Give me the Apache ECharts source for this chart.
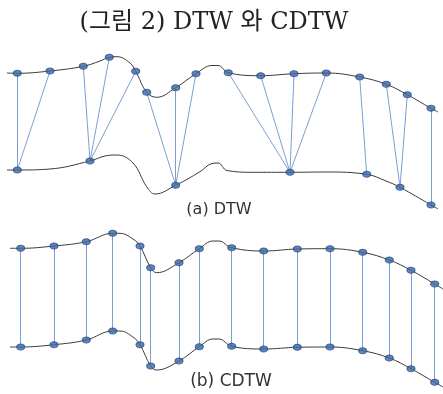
<!DOCTYPE html>
<html><head><meta charset="utf-8">
<script src="https://cdn.jsdelivr.net/npm/echarts@6/dist/echarts.min.js"></script>
<style>html,body{margin:0;padding:0;background:#fff}#c{width:443px;height:394px}</style>
</head><body><div id="c"></div>
<script>
// Panel (a) DTW — curve shapes (x, y) in picture units
const aTopCurve = [[7,73],[17.3,73.3],[50,71],[83.3,66.3],[100,61],[109.3,57.3],[117,56.7],[130,63],[135.7,71.3],[146.7,92.3],[156.7,97.3],[175.7,87.7],[196,73.7],[212,65.5],[218,65.5],[228.3,72.7],[260.7,75.7],[294,73.7],[326.3,73],[359.7,77],[386.3,84.3],[407.3,94.7],[431,108.3],[438,112]];
const aBotCurve = [[7,170],[17.3,170],[50,169],[90,161],[105,156],[116.7,155],[133,163],[146.7,186.7],[155,194],[175.7,185.3],[200,171.7],[212,163.5],[218,163],[227,170.5],[253,172.3],[290,172.3],[326,172],[366.7,174.3],[386,181],[400,187.3],[431,205],[438,209]];
const aTopPts = [[17.3,73.3],[50,71],[83.3,66.3],[109.3,57.3],[135.7,71.3],[146.7,92.3],[175.7,87.7],[196,73.7],[228.3,72.7],[260.7,75.7],[294,73.7],[326.3,73],[359.7,77],[386.3,84.3],[407.3,94.7],[431,108.3]];
const aBotPts = [[17.3,170],[90,161],[175.7,185.3],[290,172.3],[366.7,174.3],[400,187.3],[431,205]];
const aMatch = [0,0,1,1,1,2,2,2,3,3,3,3,4,5,5,6]; // top index -> bottom index

// Panel (b) CDTW
const bTopCurve = [[10,248.3],[20.7,248.3],[54,246],[86.3,241.7],[112.7,233.3],[120,233.3],[133,239],[140,246],[150.7,267.7],[156.7,272.7],[179,262.7],[199.3,248.7],[213,241],[219,241],[231.7,247.7],[263.7,251],[297.3,249],[330,248.7],[362.7,252.3],[389.3,260],[411,270.3],[434.7,284],[443,289]];
const bBotCurve = [[10,347],[20.7,347],[54,344.7],[86.3,340],[112.7,331],[120,331],[133,337],[140,344.7],[150.7,366],[156.7,370],[179,361],[199.3,346.7],[213,339],[219,339],[231.7,346.3],[263.7,349],[297.3,347.3],[330,347],[362.7,350.7],[389.3,358],[411,368.7],[434.7,382.3],[443,387]];
const bTopPts = [[20.7,248.3],[54,246],[86.3,241.7],[112.7,233.3],[140,246],[150.7,267.7],[179,262.7],[199.3,248.7],[231.7,247.7],[263.7,251],[297.3,249],[330,248.7],[362.7,252.3],[389.3,260],[411,270.3],[434.7,284]];
const bBotPts = [[20.7,347],[54,344.7],[86.3,340],[112.7,331],[140,344.7],[150.7,366],[179,361],[199.3,346.7],[231.7,346.3],[263.7,349],[297.3,347.3],[330,347],[362.7,350.7],[389.3,358],[411,368.7],[434.7,382.3]];
const bMatch = [0,1,2,3,4,5,6,7,8,9,10,11,12,13,14,15];

const titleText = '(그림 2) DTW 와 CDTW';
const labelA = '(a) DTW';
const labelB = '(b) CDTW';

function links(top, bot, match){ return top.map((p,i)=>({coords:[p, bot[match[i]]]})); }
function curve(d){ return {type:'line', data:d, smooth:0.4, showSymbol:false, symbol:'none', lineStyle:{color:'#3a3a3a', width:1}, z:2, silent:true}; }
function pts(d){ return {type:'scatter', data:d, symbol:'circle', symbolSize:[8,6], itemStyle:{color:'#3b68a6', borderColor:'#2a4e82', borderWidth:1}, z:5, silent:true}; }
function lk(d){ return {type:'lines', coordinateSystem:'cartesian2d', data:d, lineStyle:{color:'#7b9fd2', width:1, opacity:1}, z:3, silent:true}; }

const chart = echarts.init(document.getElementById('c'));
chart.setOption({
  animation:false,
  graphic:[
    {type:'text', x:214, y:23, style:{text:titleText, fill:'#222', font:'normal 24px "DejaVu Serif","Liberation Serif","Noto Sans CJK KR",serif', textAlign:'center', textVerticalAlign:'middle'}},
    {type:'text', x:219, y:210, style:{text:labelA, fill:'#333', font:'normal 16px "DejaVu Sans","Noto Sans",sans-serif', textAlign:'center', textVerticalAlign:'middle'}},
    {type:'text', x:231, y:382, style:{text:labelB, fill:'#333', font:'normal 17px "DejaVu Sans","Noto Sans",sans-serif', textAlign:'center', textVerticalAlign:'middle'}}
  ],
  grid:{left:0, right:0, top:0, bottom:0},
  xAxis:{type:'value', min:0, max:443, show:false},
  yAxis:{type:'value', min:0, max:394, inverse:true, show:false},
  series:[
    curve(aTopCurve), curve(aBotCurve), curve(bTopCurve), curve(bBotCurve),
    lk(links(aTopPts,aBotPts,aMatch)), lk(links(bTopPts,bBotPts,bMatch)),
    pts(aTopPts), pts(aBotPts), pts(bTopPts), pts(bBotPts)
  ]
});
</script></body></html>
